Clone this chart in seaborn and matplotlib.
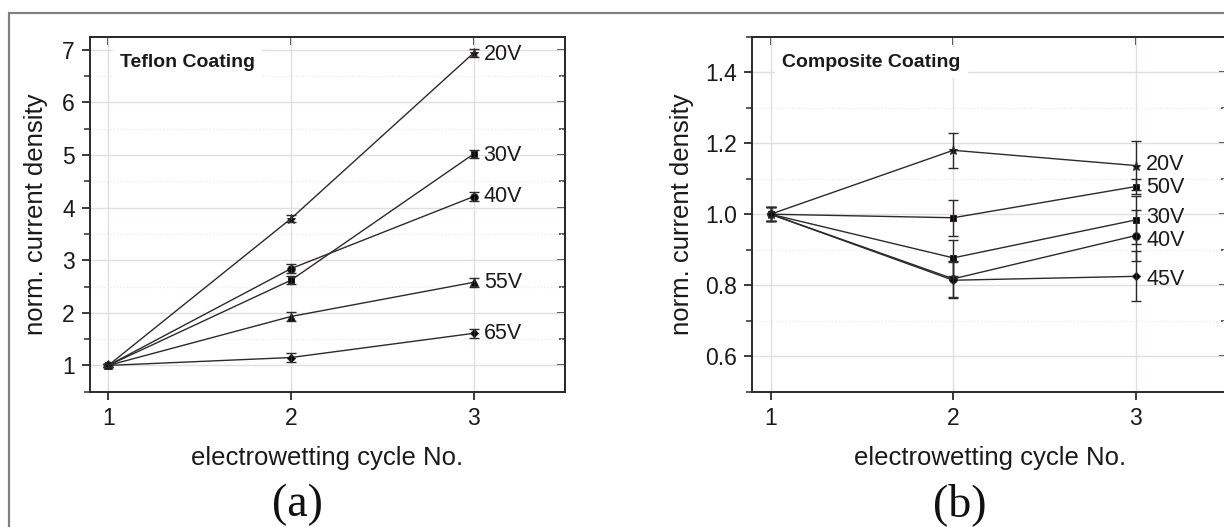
import numpy as np
import pandas as pd
import matplotlib
matplotlib.use("Agg")
import matplotlib.pyplot as plt
from matplotlib.patches import Rectangle
from matplotlib.ticker import MultipleLocator, FormatStrFormatter
import seaborn as sns

# ---- data -------------------------------------------------------------
cycles = [1, 2, 3]

# Teflon coating: normalised current density and error per cycle
teflon_voltages = ["20V", "30V", "40V", "55V", "65V"]
teflon_20V = [1.0, 3.79, 6.94]
teflon_30V = [1.0, 2.62, 5.02]
teflon_40V = [1.0, 2.84, 4.21]
teflon_55V = [1.0, 1.93, 2.58]
teflon_65V = [1.0, 1.15, 1.61]
teflon_20V_err = [0.03, 0.07, 0.07]
teflon_30V_err = [0.03, 0.08, 0.08]
teflon_40V_err = [0.03, 0.08, 0.09]
teflon_55V_err = [0.03, 0.08, 0.08]
teflon_65V_err = [0.03, 0.08, 0.09]
teflon_label_y = [6.92, 5.0, 4.21, 2.58, 1.6]

# Composite coating
comp_voltages = ["20V", "50V", "30V", "40V", "45V"]
comp_20V = [1.0, 1.18, 1.137]
comp_50V = [1.0, 0.99, 1.078]
comp_30V = [1.0, 0.877, 0.984]
comp_40V = [1.0, 0.818, 0.94]
comp_45V = [1.0, 0.814, 0.825]
comp_20V_err = [0.02, 0.05, 0.07]
comp_50V_err = [0.02, 0.05, 0.022]
comp_30V_err = [0.02, 0.05, 0.068]
comp_40V_err = [0.02, 0.05, 0.072]
comp_45V_err = [0.02, 0.05, 0.07]
comp_label_y = [1.14, 1.075, 0.99, 0.925, 0.816]

# ---- style ------------------------------------------------------------
sns.set_theme(style="white")
plt.rcParams["font.family"] = ["Liberation Sans", "DejaVu Sans"]
plt.rcParams["axes.linewidth"] = 1.4
plt.rcParams["axes.edgecolor"] = "#2b2b2b"

LINE = "#2b2b2b"
TICK_FS = 16.5
LABEL_FS = 18.5
SERIES_FS = 15.5

markers = {"20V": "*", "30V": "s", "40V": "o", "55V": "^", "65V": "D",
           "50V": "s", "45V": "D"}
msizes = {"*": 6.5, "s": 5, "o": 5.4, "^": 6.4, "D": 4.4}


def long_table(voltages, values, errors):
    rows = []
    for v, ys, es in zip(voltages, values, errors):
        for c, y, e in zip(cycles, ys, es):
            rows.append({"cycle": c, "value": y, "err": e, "voltage": v})
    return pd.DataFrame(rows)


teflon_df = long_table(
    teflon_voltages,
    [teflon_20V, teflon_30V, teflon_40V, teflon_55V, teflon_65V],
    [teflon_20V_err, teflon_30V_err, teflon_40V_err, teflon_55V_err, teflon_65V_err],
)
comp_df = long_table(
    comp_voltages,
    [comp_20V, comp_50V, comp_30V, comp_40V, comp_45V],
    [comp_20V_err, comp_50V_err, comp_30V_err, comp_40V_err, comp_45V_err],
)

fig = plt.figure(figsize=(12.24, 5.27), dpi=100)
fig.patch.set_facecolor("white")

# thin grey frame around the figure
fig.patches.append(Rectangle((0.0076, -0.2), 1.2, 0.9748 + 0.2,
                             transform=fig.transFigure, fill=False,
                             ec="#808080", lw=1.6, zorder=0))

ax_w, ax_h, ax_bottom = 0.3881, 0.6737, 0.2567
ax_a = fig.add_axes([0.0735, ax_bottom, ax_w, ax_h])
ax_b = fig.add_axes([0.6146, ax_bottom, ax_w, ax_h])


def draw_panel(ax, df, voltages, label_y, ylim, major, minor, fmt, title,
               ylabel_x):
    ax.set_xlim(0.9, 3.5)
    ax.set_ylim(*ylim)
    ax.set_axisbelow(True)

    for v in voltages:
        sub = df[df["voltage"] == v]
        m = markers[v]
        sns.lineplot(data=sub, x="cycle", y="value", ax=ax, color=LINE,
                     lw=1.0, marker=m, markersize=msizes[m],
                     markeredgecolor=LINE, markerfacecolor="black",
                     errorbar=None, legend=False, zorder=3)
        ax.errorbar(sub["cycle"], sub["value"], yerr=sub["err"], fmt="none",
                    ecolor=LINE, elinewidth=1.0, capsize=3.4, capthick=1.0,
                    zorder=3)

    for v, y in zip(voltages, label_y):
        ax.text(3.055, y, v, ha="left", va="center", fontsize=SERIES_FS,
                color="#1a1a1a", zorder=4)

    ax.set_xticks(cycles)
    ax.set_xticklabels([str(c) for c in cycles])
    ax.yaxis.set_major_locator(MultipleLocator(major))
    ax.yaxis.set_minor_locator(MultipleLocator(minor))
    ax.yaxis.set_major_formatter(FormatStrFormatter(fmt))

    ax.grid(True, which="major", axis="both", color="#e4dddd", lw=1.0)
    ax.grid(True, which="minor", axis="y", color="#ececec", lw=0.9, ls=":")

    ax.tick_params(axis="both", which="major", direction="out", length=6,
                   width=1.3, colors="#2b2b2b", labelsize=TICK_FS,
                   labelcolor="#1a1a1a", pad=5, left=True, bottom=True)
    ax.tick_params(axis="y", which="minor", direction="out", length=4,
                   width=1.1, colors="#2b2b2b", left=True)

    # mirrored ticks on the top and right, pointing inwards
    top = ax.secondary_xaxis("top")
    top.set_xticks(cycles)
    top.tick_params(direction="in", length=6, width=1.3, labeltop=False,
                    colors="#2b2b2b")
    right = ax.secondary_yaxis("right")
    right.yaxis.set_major_locator(MultipleLocator(major))
    right.yaxis.set_minor_locator(MultipleLocator(minor))
    right.tick_params(which="major", direction="in", length=6, width=1.3,
                      labelright=False, colors="#2b2b2b")
    right.tick_params(which="minor", direction="in", length=4, width=1.1,
                      labelright=False, colors="#2b2b2b")

    ax.set_xlabel("electrowetting cycle No.", fontsize=LABEL_FS,
                  color="#1a1a1a")
    ax.xaxis.set_label_coords(0.5, -0.152)
    ax.set_ylabel("norm. current density", fontsize=LABEL_FS,
                  color="#1a1a1a")
    ax.yaxis.set_label_coords(ylabel_x, 0.5)

    ax.text(0.063, 0.928, title, transform=ax.transAxes, ha="left",
            va="center", fontsize=14, fontweight="bold", color="#1a1a1a",
            zorder=4,
            bbox=dict(facecolor="white", edgecolor="none", pad=5))


draw_panel(ax_a, teflon_df, teflon_voltages, teflon_label_y, (0.5, 7.25),
           1, 0.5, "%d", "Teflon Coating", -0.088)
draw_panel(ax_b, comp_df, comp_voltages, comp_label_y, (0.5, 1.5),
           0.2, 0.1, "%.1f", "Composite Coating", -0.123)

fig.text(297 / 1224, 11 / 527, "(a)", ha="center", va="baseline",
         fontsize=33, family=["Liberation Serif", "DejaVu Serif"],
         color="#111111")
fig.text(960 / 1224, 11 / 527, "(b)", ha="center", va="baseline",
         fontsize=33, family=["Liberation Serif", "DejaVu Serif"],
         color="#111111")

fig.savefig("out.png", dpi=100, facecolor="white")
